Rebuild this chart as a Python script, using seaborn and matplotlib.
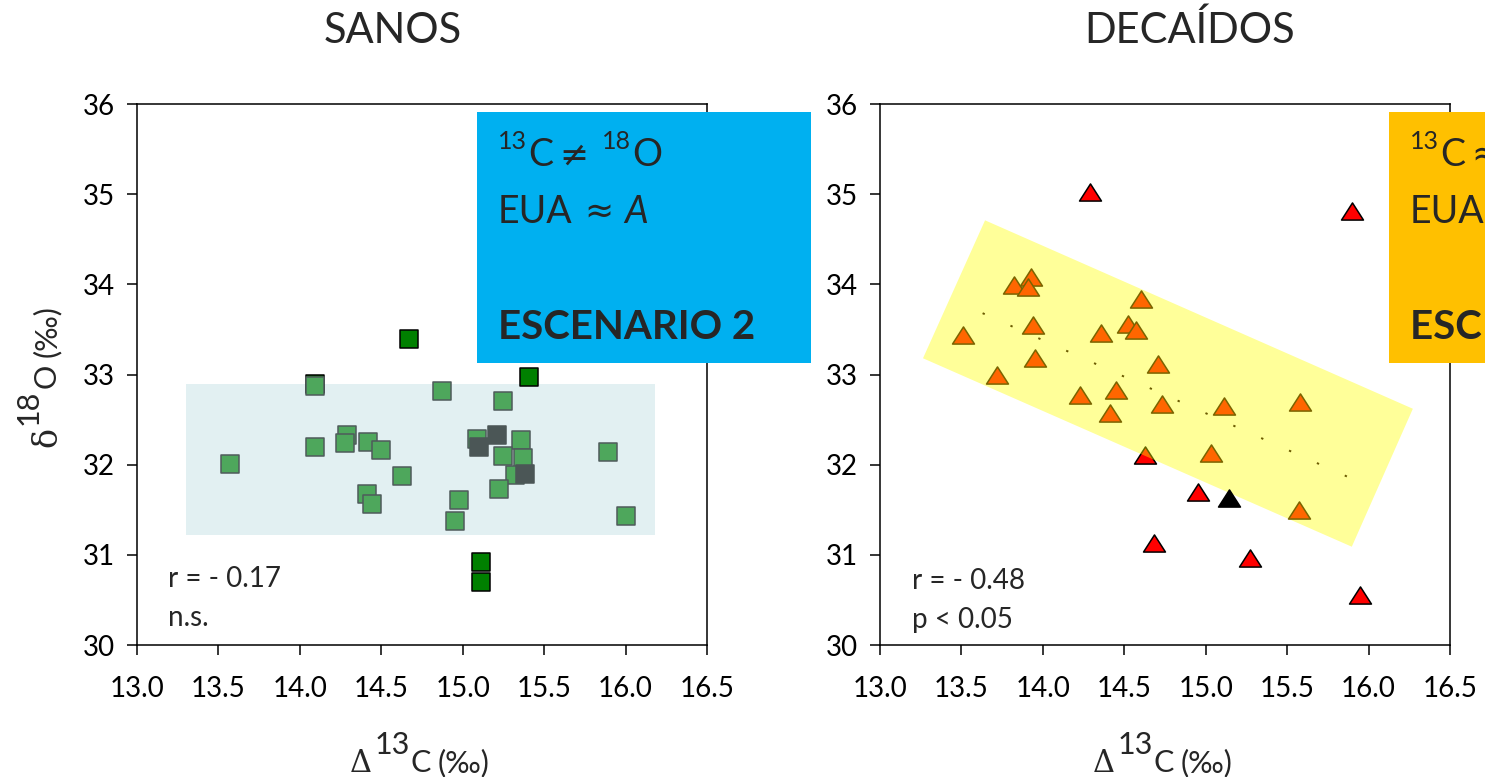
import numpy as np
import pandas as pd
import matplotlib
matplotlib.use("Agg")
import matplotlib.pyplot as plt
import seaborn as sns
from matplotlib.patches import Rectangle, Polygon
from matplotlib.path import Path
from matplotlib.transforms import IdentityTransform
from matplotlib.ticker import FormatStrFormatter

# ---------------- data ----------------
# SANOS: three groups of trees (Δ13C, δ18O)
sanos_light_x = [13.57, 14.09, 14.09, 14.29, 14.28, 14.42, 14.50, 14.63, 14.41, 14.44, 14.87,
                 15.25, 15.09, 15.36, 15.25, 15.37, 15.32, 15.22, 14.98, 14.95, 15.89, 16.00]
sanos_light_y = [32.01, 32.87, 32.20, 32.33, 32.24, 32.25, 32.16, 31.87, 31.67, 31.56, 32.82,
                 32.71, 32.28, 32.27, 32.10, 32.07, 31.89, 31.73, 31.61, 31.38, 32.14, 31.43]
sanos_dark_x = [14.09, 14.67, 15.41, 15.11, 15.11]
sanos_dark_y = [32.90, 33.39, 32.97, 30.92, 30.70]
sanos_grey_x = [15.21, 15.10, 15.38]
sanos_grey_y = [32.33, 32.20, 31.90]

# DECAÍDOS
dec_orange_x = [13.82, 13.93, 13.91, 14.60, 13.51, 13.94, 14.36, 14.52, 14.57, 13.95,
                13.72, 14.71, 14.23, 14.45, 14.73, 14.41, 15.11, 15.58, 15.03, 15.57]
dec_orange_y = [33.99, 34.08, 33.97, 33.84, 33.44, 33.55, 33.46, 33.56, 33.49, 33.18,
                33.00, 33.12, 32.77, 32.83, 32.67, 32.57, 32.65, 32.69, 32.13, 31.50]
dec_red_x = [14.29, 15.90, 14.63, 14.95, 14.68, 15.27, 15.95]
dec_red_y = [35.02, 34.81, 32.11, 31.70, 31.13, 30.96, 30.56]
dec_black_x = [15.14]
dec_black_y = [31.63]

# dotted trend line of the decayed trees
trend_x = [13.63, 15.94]
trend_y = [33.68, 31.81]

# shaded regions (data coordinates)
sanos_band = dict(x0=13.30, x1=16.18, y0=31.22, y1=32.90)
dec_band_x = [13.645, 16.272, 15.897, 13.264]
dec_band_y = [34.71, 32.62, 31.09, 33.18]

x_ticks = [13.0, 13.5, 14.0, 14.5, 15.0, 15.5, 16.0, 16.5]
y_ticks = [30, 31, 32, 33, 34, 35, 36]

titles = ["SANOS", "DECAÍDOS"]
stats = [("r = - 0.17", "n.s."), ("r = - 0.48", "p < 0.05")]
scenarios = [("≠", "ESCENARIO 2"), ("≈", "ESCENARIO 3")]

# ---------------- style ----------------
W, H, DPI = 1485, 777, 100
sns.set_style("ticks")
FONT = ["Lato", "DejaVu Sans"]
plt.rcParams["font.family"] = FONT
plt.rcParams["axes.linewidth"] = 1.1

fig = plt.figure(figsize=(W / DPI, H / DPI), dpi=DPI)
ax1 = fig.add_axes([137 / W, 1 - 645 / H, 570 / W, 541 / H])
ax2 = fig.add_axes([880 / W, 1 - 645 / H, 570 / W, 541 / H])

for ax in (ax1, ax2):
    ax.set_xlim(13.0, 16.5)
    ax.set_ylim(30, 36)
    ax.set_xticks(x_ticks)
    ax.set_yticks(y_ticks)
    ax.xaxis.set_major_formatter(FormatStrFormatter("%.1f"))
    ax.tick_params(direction="out", length=7, width=1.1, labelsize=20, colors="black")
    ax.tick_params(axis="x", pad=15)
    ax.tick_params(axis="y", pad=9)
    for sp in ax.spines.values():
        sp.set_color("black")
        sp.set_linewidth(1.1)

# ---------------- SANOS ----------------
ax1.add_patch(Rectangle((sanos_band["x0"], sanos_band["y0"]),
                        sanos_band["x1"] - sanos_band["x0"], sanos_band["y1"] - sanos_band["y0"],
                        facecolor="#e2f0f2", edgecolor="none", zorder=0.5))
sq = dict(marker="s", s=150, linewidth=1.1, legend=False, ax=ax1)
sns.scatterplot(x=sanos_dark_x, y=sanos_dark_y, color="#008000", edgecolor="black", zorder=3, **sq)
sns.scatterplot(x=sanos_light_x, y=sanos_light_y, color="#4ea75c", edgecolor="#4f5b5b", zorder=4, **sq)
sns.scatterplot(x=sanos_grey_x, y=sanos_grey_y, color="#4b5656", edgecolor="#4b5656", zorder=5, **sq)

# ---------------- DECAÍDOS ----------------
tri = Path([(0, 0.78), (-1, -0.78), (1, -0.78), (0, 0.78)],
           [Path.MOVETO, Path.LINETO, Path.LINETO, Path.CLOSEPOLY])
tk = dict(marker=tri, s=250, linewidth=1.1, legend=False, ax=ax2)
sns.scatterplot(x=dec_red_x, y=dec_red_y, color="#ff0000", edgecolor="black", zorder=3, **tk)
ax2.add_patch(Polygon(list(zip(dec_band_x, dec_band_y)), closed=True,
                      facecolor="#ffff00", alpha=0.4, edgecolor="none", zorder=3.5))
sns.scatterplot(x=dec_black_x, y=dec_black_y, color="black", edgecolor="black", zorder=3.6, **tk)
ax2.plot(trend_x, trend_y, color="#6b5a00", lw=1.4, linestyle=(0, (1.2, 14.5)),
         dash_capstyle="butt", zorder=3.7)
sns.scatterplot(x=dec_orange_x, y=dec_orange_y, color="#ff6600", edgecolor="#7a6400", zorder=4, **tk)

for ax in (ax1, ax2):
    ax.set_xlabel("")
    ax.set_ylabel("")

# statistics
ax1.text(0.0544, 0.107, stats[0][0], transform=ax1.transAxes, fontsize=20, va="baseline")
ax1.text(0.0544, 0.035, stats[0][1], transform=ax1.transAxes, fontsize=20, va="baseline")
ax2.text(0.056, 0.1035, stats[1][0], transform=ax2.transAxes, fontsize=20, va="baseline")
ax2.text(0.056, 0.0314, stats[1][1], transform=ax2.transAxes, fontsize=20, va="baseline")

# ---------------- figure-level text ----------------
renderer = fig.canvas.get_renderer()


def rich(pieces, x, y, rotation=0, center=False, zorder=10):
    """Lay out a run of text pieces (text, size, rise, gap, props) along one baseline.

    x, y are pixels from the top-left corner: the start of the run, or its middle
    when center is True.  With rotation=90 the run goes upwards."""
    texts, lengths = [], []
    for s, size, rise, gap, kw in pieces:
        t = fig.text(0, 0, s, transform=IdentityTransform(), fontsize=size, ha="left",
                     va="baseline", rotation=rotation, rotation_mode="anchor",
                     zorder=zorder, **kw)
        bb = t.get_window_extent(renderer)
        texts.append(t)
        lengths.append((bb.width if rotation == 0 else bb.height) + gap)
    total = sum(lengths) - pieces[-1][3]
    pos = (x if rotation == 0 else H - y) - (total / 2 if center else 0)
    for t, (s, size, rise, gap, kw), ln in zip(texts, pieces, lengths):
        if rotation == 0:
            t.set_position((pos, H - y + rise))
        else:
            t.set_position((x - rise, pos))
        pos += ln


GREEK = {"family": ["DejaVu Serif"]}
MATH = {"family": ["DejaVu Sans"]}
# titles
fig.text(393 / W, 1 - 43 / H, titles[0], fontsize=30, ha="center", va="baseline")
fig.text(1190 / W, 1 - 43 / H, titles[1], fontsize=30, ha="center", va="baseline")

# axis labels
for xc in (420, 1163):
    rich([("Δ", 22, 0, 2, GREEK), ("13", 22, 18, 1, {}), ("C", 22, 0, 7, {}),
          ("(‰)", 22, 0, 0, {})], xc, 772, center=True)
rich([("δ", 24, 0, 2, GREEK), ("18", 22, 18, 1, {}), ("O", 22, 0, 7, {}),
      ("(‰)", 22, 0, 0, {})], 56, 376, rotation=90, center=True)

# scenario boxes
fig.add_artist(Rectangle((477, H - 363), 334, 251, transform=IdentityTransform(),
                         facecolor="#00b0f0", edgecolor="none", zorder=5))
fig.add_artist(Rectangle((1389, H - 363), 200, 251, transform=IdentityTransform(),
                         facecolor="#ffc000", edgecolor="none", zorder=5))
for x0, (rel, scen) in zip((498, 1410), scenarios):
    rich([("13", 18, 17, 1, {}), ("C", 27, 0, 6, {}), (rel, 25, 0, 14, MATH),
          ("18", 18, 17, 1, {}), ("O", 27, 0, 0, {})], x0, 166)
    rich([("EUA", 27, 0, 12, {}), ("≈", 25, 0, 10, MATH), ("A", 27, 0, 0, {"style": "italic"})],
         x0, 223)
    rich([(scen, 29, 0, 0, {"weight": "bold"})], x0, 339)

fig.savefig("out.png", dpi=DPI)
